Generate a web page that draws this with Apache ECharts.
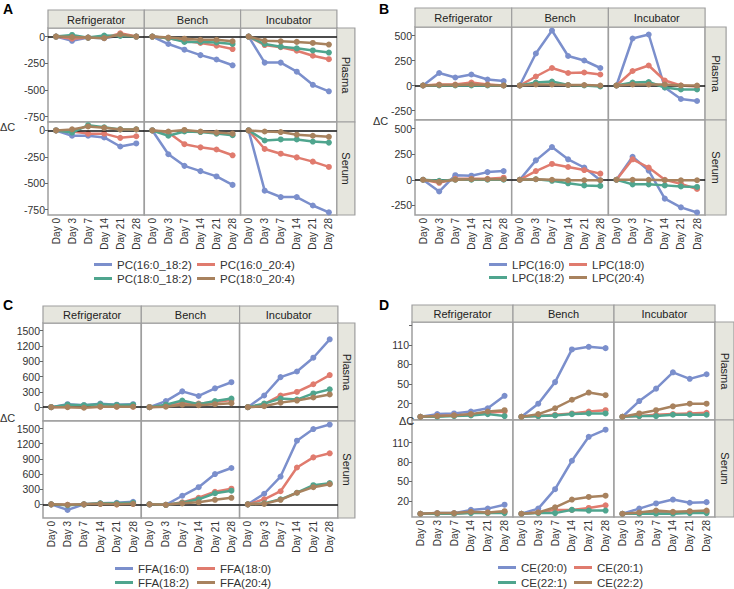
<!DOCTYPE html>
<html><head><meta charset="utf-8">
<script src="https://cdn.jsdelivr.net/npm/echarts@6/dist/echarts.min.js"></script>
<style>html,body{margin:0;padding:0;background:#fff}#c{width:734px;height:589px}</style>
</head><body><div id="c"></div>
<script>
// ---------- shared categories ----------
const days = ['Day 0', 'Day 3', 'Day 7', 'Day 14', 'Day 21', 'Day 28'];
const storage = ['Refrigerator', 'Bench', 'Incubator'];
const matrices = ['Plasma', 'Serum'];
const colors = ['#7B8FCC', '#E07B6E', '#4FA58E', '#A8825E'];

// ---------- Panel A : PC ----------
const pcNames = ['PC(16:0_18:2)', 'PC(16:0_20:4)', 'PC(18:0_18:2)', 'PC(18:0_20:4)'];
const pcPlasmaRefrigerator = [[0,-40,-10,-15,10,0],[0,-20,-10,-10,30,0],[0,15,-10,10,5,0],[0,-5,-10,-15,20,0]];
const pcPlasmaBench = [[0,-70,-123,-174,-215,-269],[0,-15,-40,-60,-85,-117],[0,-15,-50,-50,-55,-70],[0,-10,-20,-30,-30,-44]];
const pcPlasmaIncubator = [[0,-244,-244,-329,-452,-513],[0,-80,-100,-133,-180,-212],[0,-70,-95,-110,-130,-150],[0,-40,-45,-50,-60,-75]];
const pcSerumRefrigerator = [[0,-50,-50,-66,-152,-123],[0,-10,-30,-30,-70,-55],[0,-20,50,30,10,10],[0,10,38,25,10,10]];
const pcSerumBench = [[0,-225,-335,-385,-435,-515],[0,-20,-130,-160,-180,-235],[0,-50,-10,-15,-30,-45],[0,-10,5,-10,-20,-30]];
const pcSerumIncubator = [[0,-570,-630,-630,-710,-775],[0,-175,-220,-255,-295,-345],[0,-95,-85,-85,-105,-115],[0,-10,-15,-40,-50,-60]];
const pcTicks = [-750, -500, -250, 0];

// ---------- Panel B : LPC ----------
const lpcNames = ['LPC(16:0)', 'LPC(18:0)', 'LPC(18:2)', 'LPC(20:4)'];
const lpcPlasmaRefrigerator = [[0,125,80,110,60,45],[0,10,10,30,10,0],[0,0,0,0,0,0],[0,5,5,10,5,0]];
const lpcPlasmaBench = [[0,320,550,295,250,175],[0,90,175,125,130,110],[0,30,40,5,0,-10],[0,10,10,5,5,0]];
const lpcPlasmaIncubator = [[0,470,510,-20,-135,-155],[0,145,200,50,0,-10],[0,30,35,-20,-40,-40],[0,10,10,10,0,0]];
const lpcSerumRefrigerator = [[0,-115,45,40,75,85],[0,-30,10,10,10,20],[0,-10,0,0,0,0],[0,-20,0,5,5,5]];
const lpcSerumBench = [[0,190,320,200,120,-5],[0,85,155,125,95,60],[0,5,-10,-35,-55,-60],[0,5,0,-5,-5,-5]];
const lpcSerumIncubator = [[0,225,90,-185,-270,-320],[0,200,120,0,-40,-90],[0,-45,-45,-55,-65,-70],[0,0,0,-5,-5,-5]];
const lpcTicks = [-250, 0, 250, 500];

// ---------- Panel C : FFA ----------
const ffaNames = ['FFA(16:0)', 'FFA(18:0)', 'FFA(18:2)', 'FFA(20:4)'];
const ffaPlasmaRefrigerator = [[0,60,40,70,50,60],[0,10,0,10,10,10],[0,50,40,60,45,50],[0,0,-10,10,10,10]];
const ffaPlasmaBench = [[0,120,310,220,370,490],[0,30,90,70,100,140],[0,50,130,60,120,170],[0,10,50,40,60,80]];
const ffaPlasmaIncubator = [[0,230,590,700,970,1330],[0,60,230,300,450,630],[0,70,170,150,270,350],[0,20,90,130,190,250]];
const ffaSerumRefrigerator = [[0,-110,0,20,30,50],[0,-10,0,10,0,10],[0,-20,0,20,20,30],[0,-10,0,10,0,10]];
const ffaSerumBench = [[0,-10,170,340,600,720],[0,-10,40,130,250,310],[0,-10,30,100,220,270],[0,-10,20,40,90,130]];
const ffaSerumIncubator = [[0,210,550,1260,1490,1580],[0,100,260,730,930,1010],[0,20,100,230,380,420],[0,10,90,230,340,400]];
const ffaTicks = [0, 300, 600, 900, 1200, 1500];

// ---------- Panel D : CE ----------
const ceNames = ['CE(20:0)', 'CE(20:1)', 'CE(22:1)', 'CE(22:2)'];
const cePlasmaRefrigerator = [[0,4,5,8,13,32],[0,1,2,3,6,8],[0,0,1,2,4,1],[0,1,2,4,8,10]];
const cePlasmaBench = [[0,20,53,103,107,105],[0,1,3,5,8,10],[0,1,2,4,5,5],[0,4,13,26,37,33]];
const cePlasmaIncubator = [[0,24,43,68,58,65],[0,1,3,4,5,6],[0,1,1,3,3,3],[0,5,10,16,20,20]];
const ceSerumRefrigerator = [[0,1,1,6,8,14],[0,0,0,2,2,3],[0,0,0,1,1,1],[0,1,1,3,2,4]];
const ceSerumBench = [[0,8,38,82,119,130],[0,2,6,6,9,13],[0,1,1,6,5,5],[0,2,10,22,26,28]];
const ceSerumIncubator = [[0,8,16,22,17,18],[0,1,2,2,3,3],[0,0,0,0,1,1],[0,2,5,3,4,5]];
const ceTicks = [20, 50, 80, 110, 140];
const ceLabels = [20, 50, 80, 110];

// ---------- layout ----------
const FONT = '"Liberation Sans", Arial, Helvetica, sans-serif';
const panels = [
  { tag: 'A', names: pcNames,
    data: { Plasma: [pcPlasmaRefrigerator, pcPlasmaBench, pcPlasmaIncubator], Serum: [pcSerumRefrigerator, pcSerumBench, pcSerumIncubator] },
    y: { min: -800, max: 80, ticks: pcTicks, labels: pcTicks, zero: true },
    L: { left: 48, colW: 96.3, stripW: 18, headTop: 10, headH: 18, rows: [[28, 94], [122, 93]], tag: [3, 2], dc: [0, 127], lx: [94, 197], ly: [258.5, 272.5] } },
  { tag: 'B', names: lpcNames,
    data: { Plasma: [lpcPlasmaRefrigerator, lpcPlasmaBench, lpcPlasmaIncubator], Serum: [lpcSerumRefrigerator, lpcSerumBench, lpcSerumIncubator] },
    y: { min: -345, max: 585, ticks: lpcTicks, labels: lpcTicks, zero: true },
    L: { left: 415, colW: 96.7, stripW: 21, headTop: 8, headH: 19, rows: [[27, 93], [120, 95]], tag: [379, 2], dc: [373, 121], lx: [489, 569], ly: [258.5, 271.5] } },
  { tag: 'C', names: ffaNames,
    data: { Plasma: [ffaPlasmaRefrigerator, ffaPlasmaBench, ffaPlasmaIncubator], Serum: [ffaSerumRefrigerator, ffaSerumBench, ffaSerumIncubator] },
    y: { min: -270, max: 1650, ticks: ffaTicks, labels: ffaTicks, zero: true },
    L: { left: 43, colW: 98.3, stripW: 17, headTop: 306, headH: 17, rows: [[323, 98], [421, 97]], tag: [3, 298], dc: [0, 418], lx: [115, 197], ly: [562.5, 576.5] } },
  { tag: 'D', names: ceNames,
    data: { Plasma: [cePlasmaRefrigerator, cePlasmaBench, cePlasmaIncubator], Serum: [ceSerumRefrigerator, ceSerumBench, ceSerumIncubator] },
    y: { min: -5, max: 145, ticks: ceTicks, labels: ceLabels, zero: false },
    L: { left: 412, colW: 101, stripW: 19, headTop: 305, headH: 17, rows: [[322, 98], [420, 97]], tag: [379, 298], dc: [399, 421], lx: [498, 574], ly: [561.5, 576.5] } }
];

const grids = [], xAxes = [], yAxes = [], series = [], legends = [], graphics = [];
const BORDER = '#9E9E9E';
const STRIP = '#E6E6DE';

panels.forEach(p => {
  const L = p.L;
  graphics.push({ type: 'text', x: L.tag[0], y: L.tag[1], style: { text: p.tag, font: 'bold 14px ' + FONT, fill: '#000', textAlign: 'left', textVerticalAlign: 'top' } });
  graphics.push({ type: 'text', x: L.dc[0], y: L.dc[1], style: { text: 'ΔC', font: '11px ' + FONT, fill: '#333', textAlign: 'left', textVerticalAlign: 'middle' } });
  storage.forEach((s, ci) => {
    const x = L.left + ci * L.colW;
    graphics.push({ type: 'rect', shape: { x: x, y: L.headTop, width: L.colW, height: L.headH }, style: { fill: STRIP, stroke: BORDER, lineWidth: 1.2 } });
    graphics.push({ type: 'text', x: x + L.colW / 2, y: L.headTop + L.headH / 2 + 0.5, style: { text: s, font: '11px ' + FONT, fill: '#222', textAlign: 'center', textVerticalAlign: 'middle' } });
  });
  matrices.forEach((m, ri) => {
    const top = L.rows[ri][0], h = L.rows[ri][1];
    const sx = L.left + 3 * L.colW;
    graphics.push({ type: 'rect', shape: { x: sx, y: top, width: L.stripW, height: h }, style: { fill: STRIP, stroke: BORDER, lineWidth: 1.2 } });
    graphics.push({ type: 'text', x: sx + L.stripW / 2 + 0.5, y: top + h / 2, rotation: -Math.PI / 2, style: { text: m, font: '11px ' + FONT, fill: '#222', textAlign: 'center', textVerticalAlign: 'middle', x: 0, y: 0 } });
    storage.forEach((s, ci) => {
      const gi = grids.length;
      grids.push({ left: L.left + ci * L.colW, top: top, width: L.colW, height: h, show: true, borderColor: BORDER, borderWidth: 1.5, backgroundColor: '#fff' });
      xAxes.push({ type: 'category', gridIndex: gi, data: days, boundaryGap: true,
        axisLine: { show: false }, axisTick: { show: false }, splitLine: { show: false },
        axisLabel: { show: ri === 1, rotate: 90, interval: 0, fontSize: 10, color: '#333', margin: 3, fontFamily: FONT } });
      yAxes.push({ type: 'value', gridIndex: gi, min: p.y.min, max: p.y.max,
        splitLine: { show: false }, axisLine: { show: false },
        axisTick: { show: ci === 0, length: 3, lineStyle: { color: '#666' }, customValues: p.y.ticks },
        axisLabel: { show: ci === 0, customValues: p.y.labels, formatter: v => String(v), fontSize: 10.5, color: '#333', margin: 3, fontFamily: FONT } });
      const set = p.data[m][ci];
      set.forEach((vals, k) => {
        const ser = { type: 'line', name: p.names[k], xAxisIndex: gi, yAxisIndex: gi, data: vals,
          symbol: 'circle', symbolSize: 6, showSymbol: true, silent: true, z: 3 + k,
          lineStyle: { width: 2.5, color: colors[k] }, itemStyle: { color: colors[k] },
          emphasis: { disabled: true } };
        if (k === 0 && p.y.zero) {
          ser.markLine = { silent: true, symbol: 'none', label: { show: false },
            lineStyle: { color: '#111', width: 1.5, type: 'solid' }, data: [{ yAxis: 0 }] };
        }
        series.push(ser);
      });
    });
  });
  p.names.forEach((n, k) => {
    legends.push({ left: L.lx[k % 2], top: L.ly[k < 2 ? 0 : 1], padding: 0, orient: 'horizontal',
      itemWidth: 18, itemHeight: 3, icon: 'rect', selectedMode: false, data: [n],
      textStyle: { fontSize: 11.5, color: '#333', fontFamily: FONT } });
  });
});

const chart = echarts.init(document.getElementById('c'), null, { renderer: 'svg', width: 734, height: 589 });
chart.setOption({
  animation: false,
  backgroundColor: '#fff',
  grid: grids, xAxis: xAxes, yAxis: yAxes, series: series, legend: legends,
  graphic: { elements: graphics }
});
</script></body></html>
